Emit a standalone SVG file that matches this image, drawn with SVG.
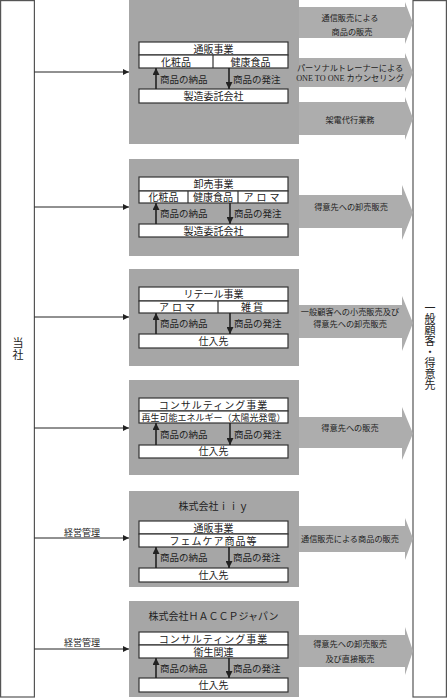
<svg xmlns="http://www.w3.org/2000/svg" width="447" height="698" viewBox="0 0 447 698">
<style>
text{font-family:"Liberation Serif","Noto Sans CJK JP",serif;fill:#222;text-anchor:middle}
.t{font-size:10px}
.s{font-size:8.2px}
.v{font-size:11px}
.lbl{font-size:9.5px;text-anchor:start}
.gbox{fill:#a6a6a6}
.arr{fill:#adadad}
.ib{fill:#fff;stroke:#333;stroke-width:1.2}
.div{stroke:#333;stroke-width:1.2}
.outer{fill:#fff;stroke:#555;stroke-width:1.2}
.con{stroke:#222;stroke-width:1;fill:none}
.iv{stroke:#222;stroke-width:1.6;fill:none}
</style>
<defs>
<marker id="ah" viewBox="0 0 10 10" refX="10" refY="5" markerWidth="6" markerHeight="6" markerUnits="userSpaceOnUse" orient="auto"><path d="M0,0 L10,5 L0,10 z" fill="#222"/></marker>
<marker id="ah2" viewBox="0 0 10 10" refX="10" refY="5" markerWidth="7" markerHeight="7" markerUnits="userSpaceOnUse" orient="auto"><path d="M0,0 L10,5 L0,10 z" fill="#222"/></marker>
</defs>

<g id="tousha">
<rect class="outer" x="0.6" y="0.6" width="33.8" height="696.4"/>
<text class="v" x="18" y="347">当</text>
<text class="v" x="18" y="359">社</text>
</g>

<g id="customers">
<rect class="outer" x="413" y="0.6" width="33.4" height="696.4"/>
<text class="v" x="430" y="312">一</text>
<text class="v" x="430" y="323">般</text>
<text class="v" x="430" y="334">顧</text>
<text class="v" x="430" y="345">客</text>
<text class="v" x="430" y="356">・</text>
<text class="v" x="430" y="367">得</text>
<text class="v" x="430" y="378">意</text>
<text class="v" x="430" y="389">先</text>
</g>

<g id="connectors">
<line class="con" x1="34.4" y1="72" x2="129" y2="72" marker-end="url(#ah)"/>
<line class="con" x1="34.4" y1="207" x2="129" y2="207" marker-end="url(#ah)"/>
<line class="con" x1="34.4" y1="317" x2="129" y2="317" marker-end="url(#ah)"/>
<line class="con" x1="34.4" y1="428" x2="129" y2="428" marker-end="url(#ah)"/>
<line class="con" x1="34.4" y1="538" x2="129" y2="538" marker-end="url(#ah)"/>
<line class="con" x1="34.4" y1="649" x2="129" y2="649" marker-end="url(#ah)"/>
<text class="t" style="font-size:9px" x="82" y="536">経営管理</text>
<text class="t" style="font-size:9px" x="82" y="646">経営管理</text>
</g>

<g id="sec1">
<rect class="gbox" x="129" y="0" width="170" height="144"/>
<rect class="ib" x="139" y="42" width="149" height="13"/>
<rect class="ib" x="139" y="55" width="149" height="13"/>
<line class="div" x1="213" y1="55" x2="213" y2="68"/>
<text class="t" x="213.5" y="52.5">通販事業</text>
<text class="t" x="176" y="65.5">化粧品</text>
<text class="t" x="250.5" y="65.5">健康食品</text>
<rect class="ib" x="139" y="89" width="149" height="14"/>
<text class="t" x="213.5" y="100">製造委託会社</text>
<line class="iv" x1="156" y1="89" x2="156" y2="68" marker-end="url(#ah2)"/>
<line class="iv" x1="229" y1="68" x2="229" y2="89" marker-end="url(#ah2)"/>
<text class="lbl" x="160" y="82.5">商品の納品</text>
<text class="lbl" x="233" y="82.5">商品の発注</text>
</g>
<g id="sales1">
<polygon class="arr" points="299,7 405,7 405,2 413,23 405,44 405,38 299,38"/>
<text class="s" x="350" y="21">通信販売による</text>
<text class="s" x="352" y="35">商品の販売</text>
<polygon class="arr" points="299,58 405,58 405,53 413,72.5 405,92 405,87 299,87"/>
<text class="s" x="350" y="71">パーソナルトレーナーによる</text>
<text class="s" x="350" y="81">ONE TO ONE カウンセリング</text>
<polygon class="arr" points="299,102 405,102 405,97 413,118.5 405,140 405,135 299,135"/>
<text class="s" x="350" y="123">架電代行業務</text>
</g>

<g id="sec2">
<rect class="gbox" x="129" y="159" width="170" height="97"/>
<rect class="ib" x="139" y="177" width="149" height="14"/>
<rect class="ib" x="139" y="191" width="149" height="12"/>
<line class="div" x1="188" y1="191" x2="188" y2="203"/>
<line class="div" x1="238" y1="191" x2="238" y2="203"/>
<text class="t" x="213.5" y="187.5">卸売事業</text>
<text class="t" x="163.5" y="200.5">化粧品</text>
<text class="t" x="213" y="200.5">健康食品</text>
<text class="t" x="263" y="200.5" style="letter-spacing:3px">アロマ</text>
<rect class="ib" x="139" y="224" width="149" height="13"/>
<text class="t" x="213.5" y="234.5">製造委託会社</text>
<line class="iv" x1="156" y1="224" x2="156" y2="203" marker-end="url(#ah2)"/>
<line class="iv" x1="230" y1="203" x2="230" y2="224" marker-end="url(#ah2)"/>
<text class="lbl" x="160" y="217">商品の納品</text>
<text class="lbl" x="234" y="217">商品の発注</text>
<polygon class="arr" points="299,195 402,195 402,185 413,212.5 402,240 402,228 299,228"/>
<text class="s" x="351" y="210">得意先への卸売販売</text>
</g>

<g id="sec3">
<rect class="gbox" x="129" y="269" width="170" height="97"/>
<rect class="ib" x="139" y="287" width="149" height="14"/>
<rect class="ib" x="139" y="301" width="149" height="12"/>
<line class="div" x1="218" y1="301" x2="218" y2="313"/>
<text class="t" x="213.5" y="297.5">リテール事業</text>
<text class="t" x="178.5" y="310.5" style="letter-spacing:3px">アロマ</text>
<text class="t" x="253" y="310.5" style="letter-spacing:2px">雑貨</text>
<rect class="ib" x="139" y="334" width="149" height="14"/>
<text class="t" x="213.5" y="344.5">仕入先</text>
<line class="iv" x1="156" y1="334" x2="156" y2="313" marker-end="url(#ah2)"/>
<line class="iv" x1="230" y1="313" x2="230" y2="334" marker-end="url(#ah2)"/>
<text class="lbl" x="160" y="327">商品の納品</text>
<text class="lbl" x="234" y="327">商品の発注</text>
<polygon class="arr" points="299,305 402,305 402,296 413,323 402,351 402,338 299,338"/>
<text class="s" x="350" y="315">一般顧客への小売販売及び</text>
<text class="s" x="350" y="327">得意先への卸売販売</text>
</g>

<g id="sec4">
<rect class="gbox" x="129" y="380" width="170" height="95"/>
<rect class="ib" x="139" y="398" width="149" height="13"/>
<rect class="ib" x="139" y="411" width="149" height="12"/>
<text class="t" x="213.5" y="408.5" style="letter-spacing:1px">コンサルティング事業</text>
<text class="t" x="213.5" y="420.5" style="font-size:9px">再生可能エネルギー（太陽光発電）</text>
<rect class="ib" x="139" y="445" width="149" height="13"/>
<text class="t" x="213.5" y="455">仕入先</text>
<line class="iv" x1="156" y1="445" x2="156" y2="423" marker-end="url(#ah2)"/>
<line class="iv" x1="230" y1="423" x2="230" y2="445" marker-end="url(#ah2)"/>
<text class="lbl" x="160" y="437.5">商品の納品</text>
<text class="lbl" x="234" y="437.5">商品の発注</text>
<polygon class="arr" points="299,417 402,417 402,407 413,433.5 402,460 402,448 299,448"/>
<text class="s" x="350" y="431">得意先への販売</text>
</g>

<g id="sec5">
<rect class="gbox" x="129" y="491" width="170" height="96"/>
<text class="t" x="213.5" y="509.5">株式会社ｉｉｙ</text>
<rect class="ib" x="139" y="521" width="149" height="13"/>
<rect class="ib" x="139" y="534" width="149" height="13"/>
<text class="t" x="213.5" y="531.5">通販事業</text>
<text class="t" x="213.5" y="544.5" style="letter-spacing:1px">フェムケア商品等</text>
<rect class="ib" x="139" y="568" width="149" height="14"/>
<text class="t" x="213.5" y="579">仕入先</text>
<line class="iv" x1="156" y1="568" x2="156" y2="547" marker-end="url(#ah2)"/>
<line class="iv" x1="229" y1="547" x2="229" y2="568" marker-end="url(#ah2)"/>
<text class="lbl" x="160" y="561">商品の納品</text>
<text class="lbl" x="233" y="561">商品の発注</text>
<polygon class="arr" points="299,526 405,526 405,518 413,538.5 405,560 405,552 299,552"/>
<text class="s" x="350" y="542">通信販売による商品の販売</text>
</g>

<g id="sec6">
<rect class="gbox" x="129" y="601" width="170" height="96"/>
<text class="t" x="213.5" y="619.5">株式会社ＨＡＣＣＰジャパン</text>
<rect class="ib" x="139" y="632" width="149" height="13"/>
<rect class="ib" x="139" y="645" width="149" height="13"/>
<text class="t" x="213.5" y="642.5" style="letter-spacing:1px">コンサルティング事業</text>
<text class="t" x="213.5" y="655.5">衛生関連</text>
<rect class="ib" x="139" y="678" width="149" height="14"/>
<text class="t" x="213.5" y="689">仕入先</text>
<line class="iv" x1="156" y1="678" x2="156" y2="658" marker-end="url(#ah2)"/>
<line class="iv" x1="229" y1="658" x2="229" y2="678" marker-end="url(#ah2)"/>
<text class="lbl" x="160" y="671.5">商品の納品</text>
<text class="lbl" x="233" y="671.5">商品の発注</text>
<polygon class="arr" points="299,635 405,635 405,627 413,651 405,675 405,667 299,667"/>
<text class="s" x="350" y="647">得意先への卸売販売</text>
<text class="s" x="350" y="662">及び直接販売</text>
</g>
</svg>
